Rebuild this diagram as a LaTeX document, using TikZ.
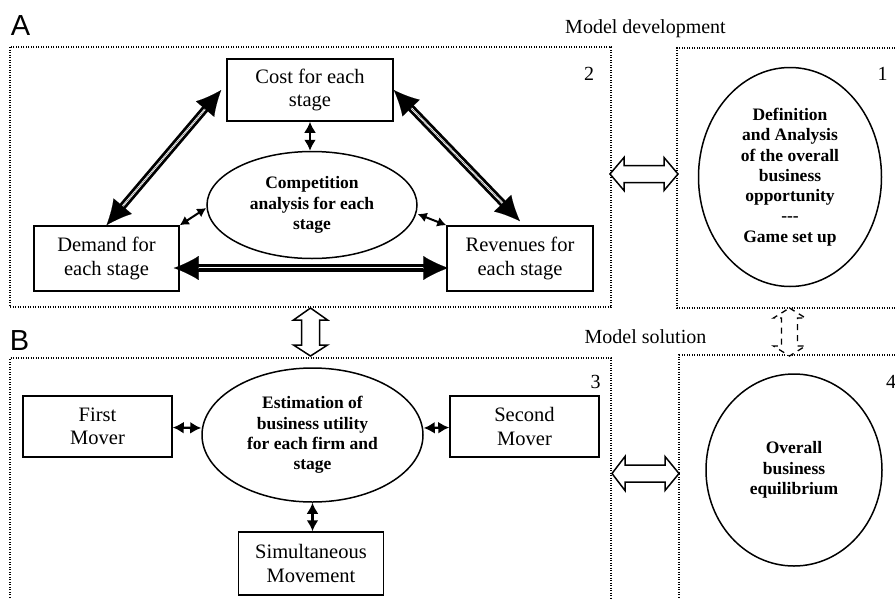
\documentclass[tikz,border=0pt]{standalone}
\usepackage{fontspec}
\setmainfont{Liberation Serif}
\setsansfont{Liberation Sans}
\usetikzlibrary{arrows.meta,shapes.geometric}
\begin{document}
\begin{tikzpicture}[x=1pt,y=-1pt,
  box/.style={draw, line width=1.5pt, rectangle, inner sep=0pt, align=center, font=\fontsize{20.5}{23.5}\selectfont},
  ell/.style={draw, line width=1.5pt, ellipse, inner sep=0pt, align=center, font=\fontsize{17.5}{20.3}\selectfont\bfseries},
  panel/.style={line width=1.1pt, dash pattern=on 1pt off 1.5pt},
  tri/.style={line width=7.5pt, shorten <=18pt, shorten >=18pt,
    postaction={draw=white, line width=1.8pt},
    postaction={draw=black, line width=0.1pt, shorten <=0pt, shorten >=0pt, {Latex[length=25pt,width=24pt]}-{Latex[length=25pt,width=24pt]}}},
  small/.style={line width=2.4pt, {Latex[length=11pt,width=12pt]}-{Latex[length=11pt,width=12pt]}},
  smalld/.style={line width=2pt, {Latex[length=9pt,width=10pt]}-{Latex[length=9pt,width=10pt]}},
  hollow/.style={draw, line width=1.5pt, fill=white, line join=miter},
  lbl/.style={font=\fontsize{20}{24}\selectfont, inner sep=0pt},
  big/.style={font=\sffamily\fontsize{29}{29}\selectfont, inner sep=0pt},
]
\useasboundingbox (0,0) rectangle (895,598);
\clip (0,0) rectangle (895,598);

% panels
\draw[panel] (10,47) rectangle (611,307);
\draw[panel] (900,48) -- (677,48) -- (677,308) -- (900,308);
\draw[panel] (10,600) -- (10,358) -- (611,358) -- (611,600);
\draw[panel] (900,355) -- (679,355) -- (679,600);

% labels
\node[big] (lA) at (20.5,26) {A};
\node[big] (lB) at (19.5,341) {B};
\node[lbl, anchor=base] (md) at (645.5,33.3) {Model development};
\node[lbl, anchor=base] (ms) at (645.5,343) {Model solution};
\node[lbl] (n2) at (589,74) {2};
\node[lbl] (n1) at (882.5,74) {1};
\node[lbl] (n3) at (595.5,382) {3};
\node[lbl] (n4) at (891,382) {4};

% panel A nodes
\node[box, minimum width=166, minimum height=62] (Cost) at (310,90) {Cost for each\\stage};
\node[box, minimum width=145, minimum height=65] (Demand) at (106.5,258.5) {Demand for\\each stage};
\node[box, minimum width=146, minimum height=65] (Rev) at (520,258.5) {Revenues for\\each stage};
\node[ell, minimum width=210, minimum height=107] (Comp) at (312,205) {Competition\\analysis for each\\stage};
\node[ell, minimum width=183, minimum height=219] (Def) at (790,177) {Definition\\and Analysis\\of the overall\\business\\opportunity\\{-}{-}{-}\\Game set up};

% panel B nodes
\node[box, minimum width=149, minimum height=61] (First) at (97.5,426.5) {First\\Mover};
\node[box, minimum width=149, minimum height=61] (Second) at (524.5,426.5) {Second\\Mover};
\node[ell, minimum width=221, minimum height=134] (Est) at (312.5,435) {Estimation of\\business utility\\for each firm and\\stage};
\node[box, minimum width=145, minimum height=63] (Sim) at (311,563.5) {Simultaneous\\Movement};
\node[ell, minimum width=176, minimum height=192] (Eq) at (794,470) {Overall\\business\\equilibrium};

% triple arrows
\draw[tri] ([xshift=-5pt]Cost.west) -- (Demand.north);
\draw[tri] (Cost.east) -- ([yshift=4pt]Rev.north);
\draw[tri] ([shift={(-6pt,-9.5pt)}]Demand.east) -- ([shift={(2pt,-9.5pt)}]Rev.west);

% small arrows
\draw[small] (Cost.south) -- (Cost.south |- Comp.north);
\draw[smalld] ([yshift=-3pt]Comp.west) -- (Demand.north east);
\draw[smalld] ([yshift=-9pt]Comp.east) -- (Rev.north west);
\draw[small] ([yshift=-1pt]First.east) -- ([yshift=7pt]Est.west);
\draw[small] ([yshift=7pt]Est.east) -- ([yshift=-1pt]Second.west);
\draw[small] (Est.south) -- (Est.south |- Sim.north);

% hollow block arrows
\draw[hollow] (610,174) -- (624,157.5) -- (624,165.5) -- (664,165.5) -- (664,157.5) -- (678,174)
  -- (664,190.5) -- (664,182.5) -- (624,182.5) -- (624,190.5) -- cycle;
\draw[hollow] (612,473.5) -- (625,456.5) -- (625,465) -- (665,465) -- (665,456.5) -- (679,473.5)
  -- (665,490.5) -- (665,482) -- (625,482) -- (625,490.5) -- cycle;
\draw[hollow] (310.5,308) -- (327.5,320) -- (319.5,320) -- (319.5,345) -- (327.5,345) -- (310.5,356)
  -- (293.5,345) -- (301.5,345) -- (301.5,320) -- (293.5,320) -- cycle;
\draw[hollow, dash pattern=on 6pt off 5pt, line width=1.3pt] (789.5,308) -- (805.5,318) -- (797.5,318) -- (797.5,346) -- (805.5,346) -- (789.5,356)
  -- (773.5,346) -- (781.5,346) -- (781.5,318) -- (773.5,318) -- cycle;
\end{tikzpicture}
\end{document}
